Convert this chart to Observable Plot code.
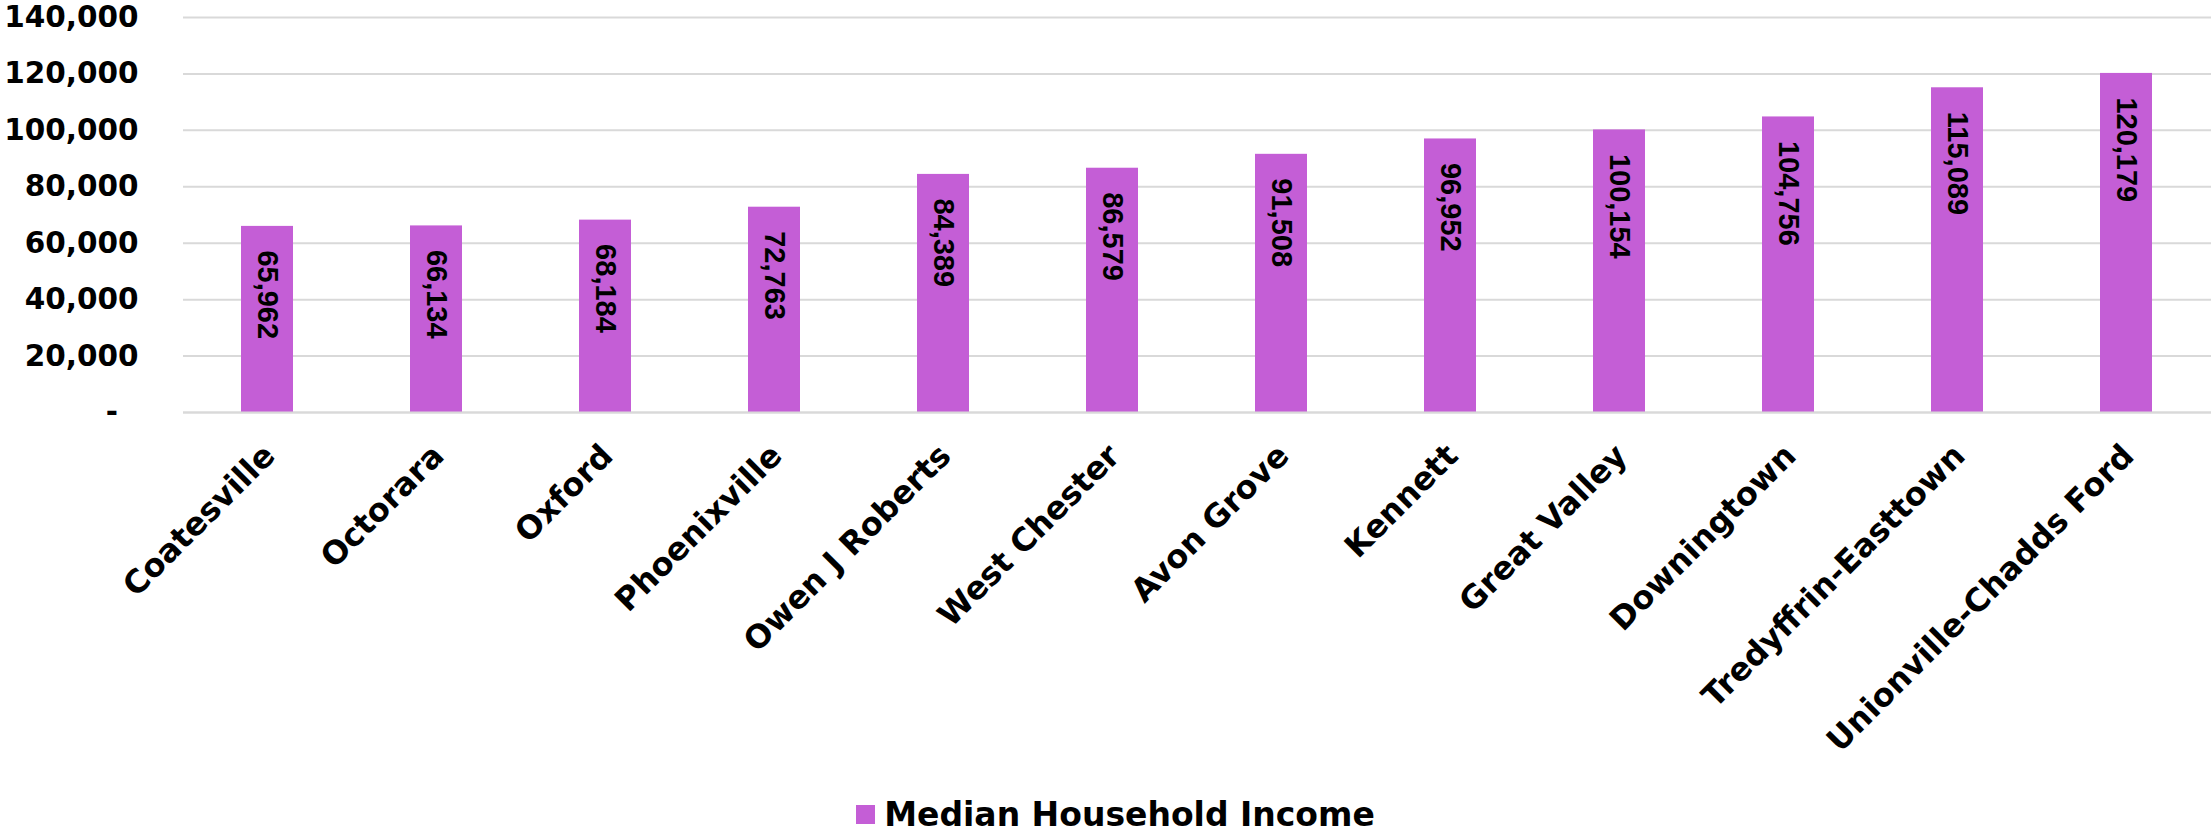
<!DOCTYPE html>
<html>
<head>
<meta charset="utf-8">
<script src="https://cdn.jsdelivr.net/npm/d3@7"></script>
<script src="https://cdn.jsdelivr.net/npm/@observablehq/plot@0.6"></script>
<style>
  html, body { margin: 0; padding: 0; background: #fff; }
  #chart svg { display: block; }
  #legend { display: flex; justify-content: center; align-items: center; height: 47px; padding-top: 6px; padding-left: 20px;
    font-family: "DejaVu Sans", sans-serif; font-weight: bold; font-size: 33px; color: #000; }
  #legend .sw { width: 19px; height: 19px; background: #c45ed6; margin-right: 9px; }
</style>
</head>
<body>
<div id="chart"></div>
<div id="legend"><div class="sw"></div><span>Median Household Income</span></div>
<script>
const districts = ["Coatesville", "Octorara", "Oxford", "Phoenixville", "Owen J Roberts", "West Chester",
  "Avon Grove", "Kennett", "Great Valley", "Downingtown", "Tredyffrin-Easttown", "Unionville-Chadds Ford"];
const incomes = [65962, 66134, 68184, 72763, 84389, 86579, 91508, 96952, 100154, 104756, 115089, 120179];
const yTicks = [0, 20000, 40000, 60000, 80000, 100000, 120000, 140000];
const seriesName = "Median Household Income";

const data = districts.map((d, i) => ({district: d, value: incomes[i]}));
const fmt = d3.format(",");
const color = "#c45ed6";

const chart = Plot.plot({
  width: 2211,
  height: 785,
  marginTop: 17,
  marginBottom: 373,
  marginLeft: 183,
  marginRight: 0,
  style: {fontFamily: "DejaVu Sans, sans-serif", fontWeight: "bold", color: "#000", background: "#fff"},
  x: {domain: districts, paddingInner: 0.69, paddingOuter: 0.345, label: null},
  y: {domain: [0, 140000], label: null},
  marks: [
    Plot.gridY(yTicks, {stroke: "#d9d9d9", strokeWidth: 2, strokeOpacity: 1}),
    Plot.axisY(yTicks, {tickSize: 0, tickPadding: 45, fontSize: 29.5, fill: "#000",
      tickFormat: d => d === 0 ? "-\u00a0\u00a0" : fmt(d)}),
    Plot.barY(data, {x: "district", y: "value", fill: color}),
    Plot.ruleY([0], {stroke: "#d9d9d9", strokeWidth: 2}),
    Plot.text(data, {x: "district", y: "value", text: d => fmt(d.value), rotate: 90,
      textAnchor: "start", dy: 24, fontSize: 29, fontFamily: "Liberation Sans, sans-serif",
      fontWeight: "bold", fill: "#000"}),
    Plot.axisX({tickSize: 0, tickRotate: -45, tickPadding: 38, fontSize: 32, fill: "#000", dx: 2})
  ]
});
document.getElementById("chart").appendChild(chart);
</script>
</body>
</html>
